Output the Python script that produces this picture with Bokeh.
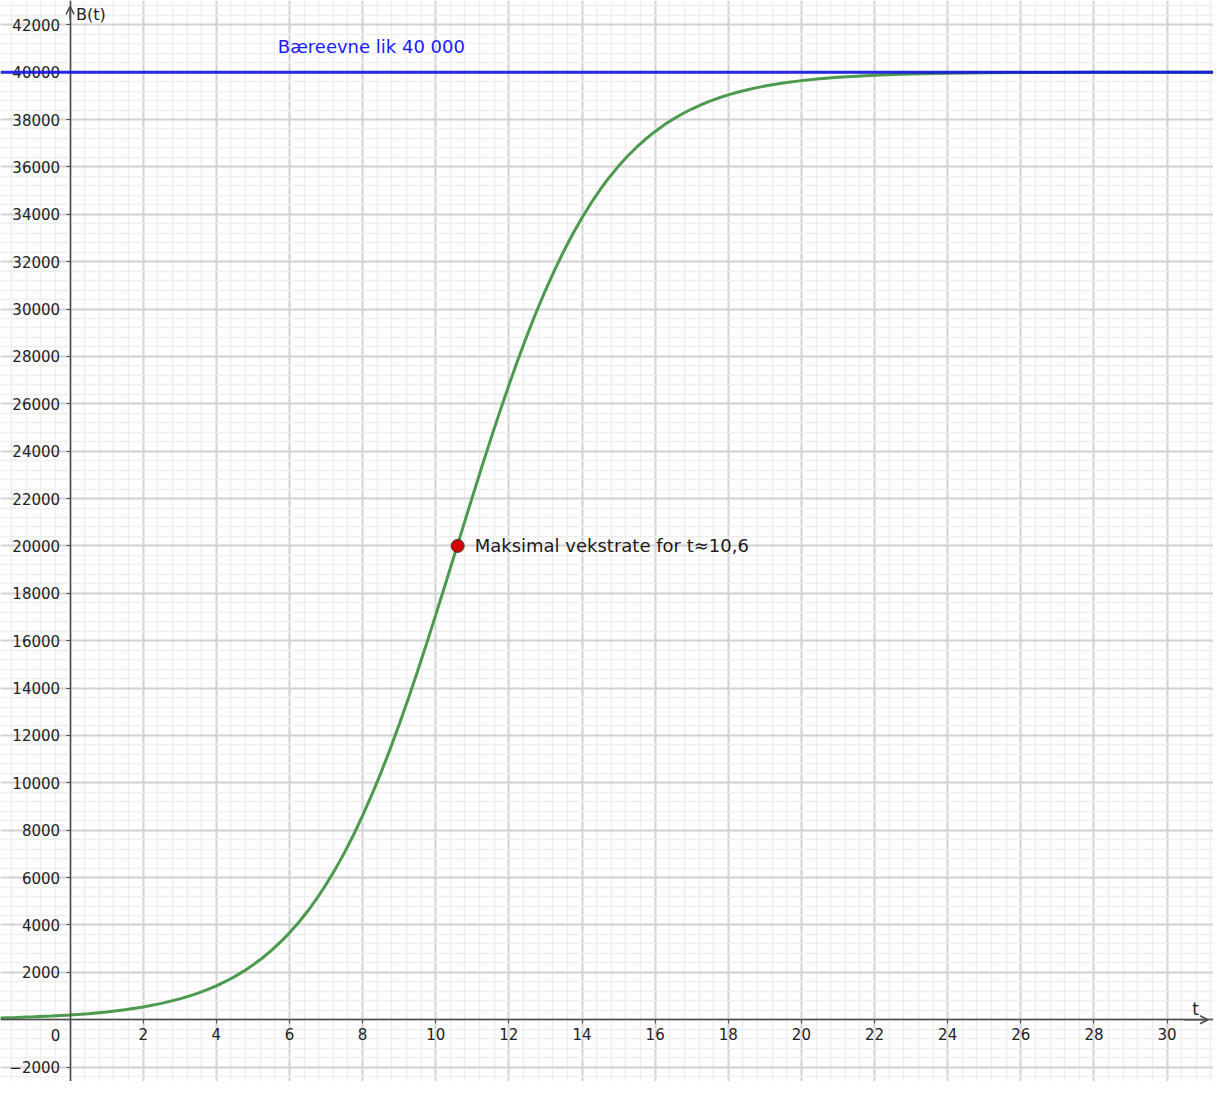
from bokeh.plotting import figure
from bokeh.models import Range1d, FixedTicker, Span, Arrow, OpenHead, BasicTickFormatter
from bokeh.core.properties import value
from bokeh.embed import file_html
from bokeh.resources import INLINE
import numpy as np

# ---- data ----
t_vals = [-2, -1.5, -1, -0.5, 0, 0.5, 1, 1.5, 2, 2.5, 3, 3.25, 3.5, 3.75, 4, 4.25, 4.5, 4.75,
          5, 5.25, 5.5, 5.75, 6, 6.25, 6.5, 6.75, 7, 7.25, 7.5, 7.75, 8, 8.25, 8.5, 8.75,
          9, 9.25, 9.5, 9.75, 10, 10.25, 10.5, 10.75, 11, 11.25, 11.5, 11.75, 12, 12.25,
          12.5, 12.75, 13, 13.25, 13.5, 13.75, 14, 14.25, 14.5, 14.75, 15, 15.25, 15.5,
          15.75, 16, 16.25, 16.5, 16.75, 17, 17.25, 17.5, 17.75, 18, 18.25, 18.5, 18.75,
          19, 19.5, 20, 20.5, 21, 21.5, 22, 22.5, 23, 24, 25, 26, 27, 28, 29, 30, 31, 32]
B_vals = [74, 95, 122, 156, 200, 256, 329, 421, 539, 690, 881, 995, 1124, 1269, 1432, 1615,
          1820, 2050, 2308, 2595, 2915, 3272, 3667, 4105, 4589, 5122, 5707, 6346, 7042, 7797,
          8612, 9487, 10421, 11412, 12458, 13555, 14697, 15877, 17088, 18321, 19567, 20817,
          22060, 23287, 24489, 25658, 26787, 27869, 28898, 29873, 30789, 31645, 32441, 33178,
          33856, 34479, 35047, 35564, 36034, 36459, 36842, 37187, 37497, 37775, 38022, 38245,
          38443, 38620, 38777, 38917, 39041, 39152, 39249, 39336, 39413, 39541, 39642, 39721,
          39782, 39830, 39868, 39897, 39920, 39951, 39970, 39982, 39989, 39993, 39996, 39998,
          39999, 39999]
K = 40000                      # carrying capacity
t_max = [10.6]                 # point of maximum growth
B_mid = [20000]
x_ticks = [2, 4, 6, 8, 10, 12, 14, 16, 18, 20, 22, 24, 26, 28, 30]
y_ticks = [-2000, 2000, 4000, 6000, 8000, 10000, 12000, 14000, 16000, 18000, 20000,
           22000, 24000, 26000, 28000, 30000, 32000, 34000, 36000, 38000, 40000, 42000]
label_K = "Bæreevne lik 40 000"
label_max = "Maksimal vekstrate for t≈10,6"
x_name = "t"
y_name = "B(t)"

# ---- figure ----
X0, X1 = -1.903, 31.27
Y0, Y1 = -2608, 43024
FONT = "DejaVu Sans"
AX = "#4d4d4d"

p = figure(width=1213, height=1081, x_range=Range1d(X0, X1), y_range=Range1d(Y0, Y1),
           output_backend="svg", toolbar_location=None, min_border=0)
p.outline_line_color = None
p.background_fill_color = "white"

# grids
p.xgrid.ticker = FixedTicker(ticks=list(range(-2, 34, 2)),
                             minor_ticks=list(np.round(np.arange(-2.0, 32.4, 0.4), 2)))
p.ygrid.ticker = FixedTicker(ticks=list(range(-4000, 44001, 2000)),
                             minor_ticks=list(range(-4000, 44001, 400)))
for g in (p.xgrid, p.ygrid):
    g.grid_line_color = "#d3d3d3"
    g.grid_line_width = 2
    g.minor_grid_line_color = "#eeeeee"
    g.minor_grid_line_width = 1.5

# axes through origin
p.xaxis.fixed_location = 0
p.yaxis.fixed_location = 0
p.xaxis.ticker = FixedTicker(ticks=x_ticks)
p.yaxis.ticker = FixedTicker(ticks=y_ticks)
p.yaxis.formatter = BasicTickFormatter(use_scientific=False)
for ax in (p.xaxis, p.yaxis):
    ax.axis_line_color = AX
    ax.axis_line_width = 1.5
    ax.major_tick_line_color = AX
    ax.major_tick_in = 0
    ax.major_tick_out = 4
    ax.minor_tick_line_color = None
    ax.major_label_text_font = FONT
    ax.major_label_text_font_size = "15px"
    ax.major_label_text_color = "#222222"
p.yaxis.major_label_standoff = 6
p.xaxis.major_label_standoff = 4

# curve
p.line(t_vals, B_vals, line_color="#4c9a4c", line_width=3)

# carrying capacity line
p.add_layout(Span(location=K, dimension="width", line_color="#1414e6",
                  line_width=3, line_alpha=0.9))

# point of max growth
p.scatter(t_max, B_mid, size=13, fill_color="#d10000", line_color="#3a3a3a", line_width=1)

p.text(x=t_max, y=B_mid, text=[label_max], x_offset=17, text_baseline="middle",
       text_align="left", text_font=value(FONT), text_font_size="18px", text_color="#1a1a1a")
p.text(x=[5.68], y=[K], text=[label_K], y_offset=-25.5, text_baseline="middle",
       text_align="left", text_font=value(FONT), text_font_size="18px", text_color="#1a1aff")

# origin and axis names
p.text(x=[0], y=[0], text=["0"], x_offset=-14.5, y_offset=15, text_baseline="middle",
       text_align="center", text_font=value(FONT), text_font_size="15px", text_color="#222222")
p.text(x=[X1], y=[0], text=[x_name], x_offset=-18, y_offset=-11, text_baseline="middle",
       text_align="center", text_font=value(FONT), text_font_size="17px", text_color="#222222")
p.text(x=[0], y=[Y1], text=[y_name], x_offset=6, y_offset=14, text_baseline="middle",
       text_align="left", text_font=value(FONT), text_font_size="16px", text_color="#222222")

# axis arrows
p.add_layout(Arrow(end=OpenHead(size=8, line_color=AX, line_width=1.5),
                   x_start=X1 - 0.8, y_start=0, x_end=X1 - 0.15, y_end=0,
                   line_color=AX, line_width=1.5))
p.add_layout(Arrow(end=OpenHead(size=8, line_color=AX, line_width=1.5),
                   x_start=0, y_start=Y1 - 800, x_end=0, y_end=Y1 - 250,
                   line_color=AX, line_width=1.5))

open("out.html", "w").write(file_html(p, INLINE))
